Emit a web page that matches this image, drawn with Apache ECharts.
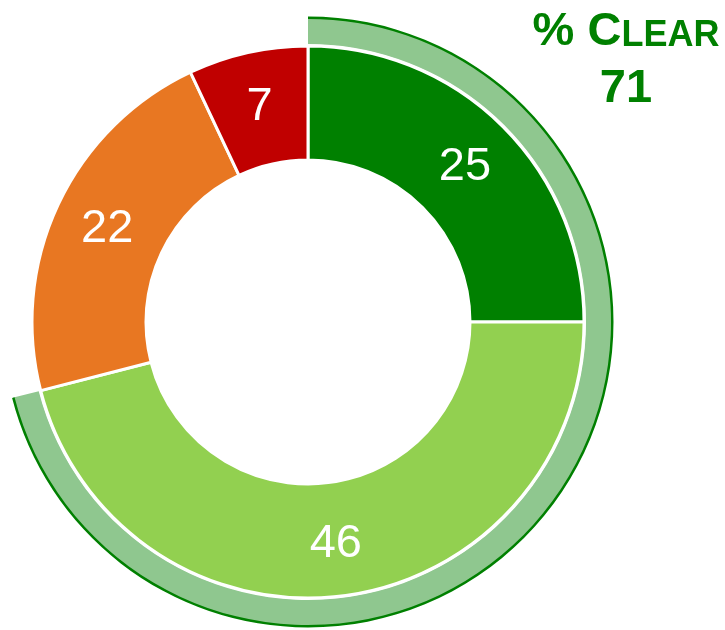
<!DOCTYPE html>
<html>
<head>
<meta charset="utf-8">
<style>
  html, body { margin: 0; padding: 0; background: #fff; }
  #chart { width: 725px; height: 630px; }
</style>
<script src="https://cdn.jsdelivr.net/npm/echarts@6/dist/echarts.min.js"></script>
</head>
<body>
<div id="chart"></div>
<script>
  // data
  var categories = ['Clear A', 'Clear B', 'Warning', 'Fail'];
  var values = [25, 46, 22, 7];
  var colors = ['#008000', '#92d050', '#e87722', '#c00000'];
  var clearPct = 71;

  var font = '"Liberation Sans", Arial, sans-serif';
  var center = [308, 322];

  var chart = echarts.init(document.getElementById('chart'));

  var pieData = categories.map(function (c, i) {
    return { name: c, value: values[i], itemStyle: { color: colors[i] } };
  });

  chart.setOption({
    animation: false,
    title: {
      text: '{a|% C}{b|LEAR}\n{a|' + clearPct + '}',
      left: 621,
      top: -6,
      textAlign: 'center',
      textStyle: {
        rich: {
          a: { fontSize: 47, fontWeight: 'bold', color: '#008000', fontFamily: font, lineHeight: 57, verticalAlign: 'bottom' },
          b: { fontSize: 36, fontWeight: 'bold', color: '#008000', fontFamily: font, lineHeight: 57, verticalAlign: 'bottom', padding: [0, 0, 2, 0] }
        }
      }
    },
    series: [
      {
        // light band round the clear part
        type: 'pie',
        silent: true,
        center: center,
        radius: [278, 304],
        startAngle: 90,
        label: { show: false },
        labelLine: { show: false },
        data: [
          { value: clearPct, itemStyle: { color: '#8fc78f' } },
          { value: 100 - clearPct, itemStyle: { color: 'rgba(0,0,0,0)' } }
        ]
      },
      {
        // outer edge line of the band
        type: 'pie',
        silent: true,
        center: center,
        radius: [303, 305.5],
        startAngle: 90,
        label: { show: false },
        labelLine: { show: false },
        data: [
          { value: clearPct, itemStyle: { color: '#008000' } },
          { value: 100 - clearPct, itemStyle: { color: 'rgba(0,0,0,0)' } }
        ]
      },
      {
        type: 'pie',
        center: center,
        radius: [162, 276],
        startAngle: 90,
        avoidLabelOverlap: false,
        itemStyle: { borderColor: '#fff', borderWidth: 3 },
        label: {
          show: true,
          position: 'inside',
          formatter: '{c}',
          color: '#fff',
          fontSize: 47,
          fontFamily: font,
          offset: [0, 2]
        },
        labelLine: { show: false },
        data: pieData
      }
    ]
  });
</script>
</body>
</html>
